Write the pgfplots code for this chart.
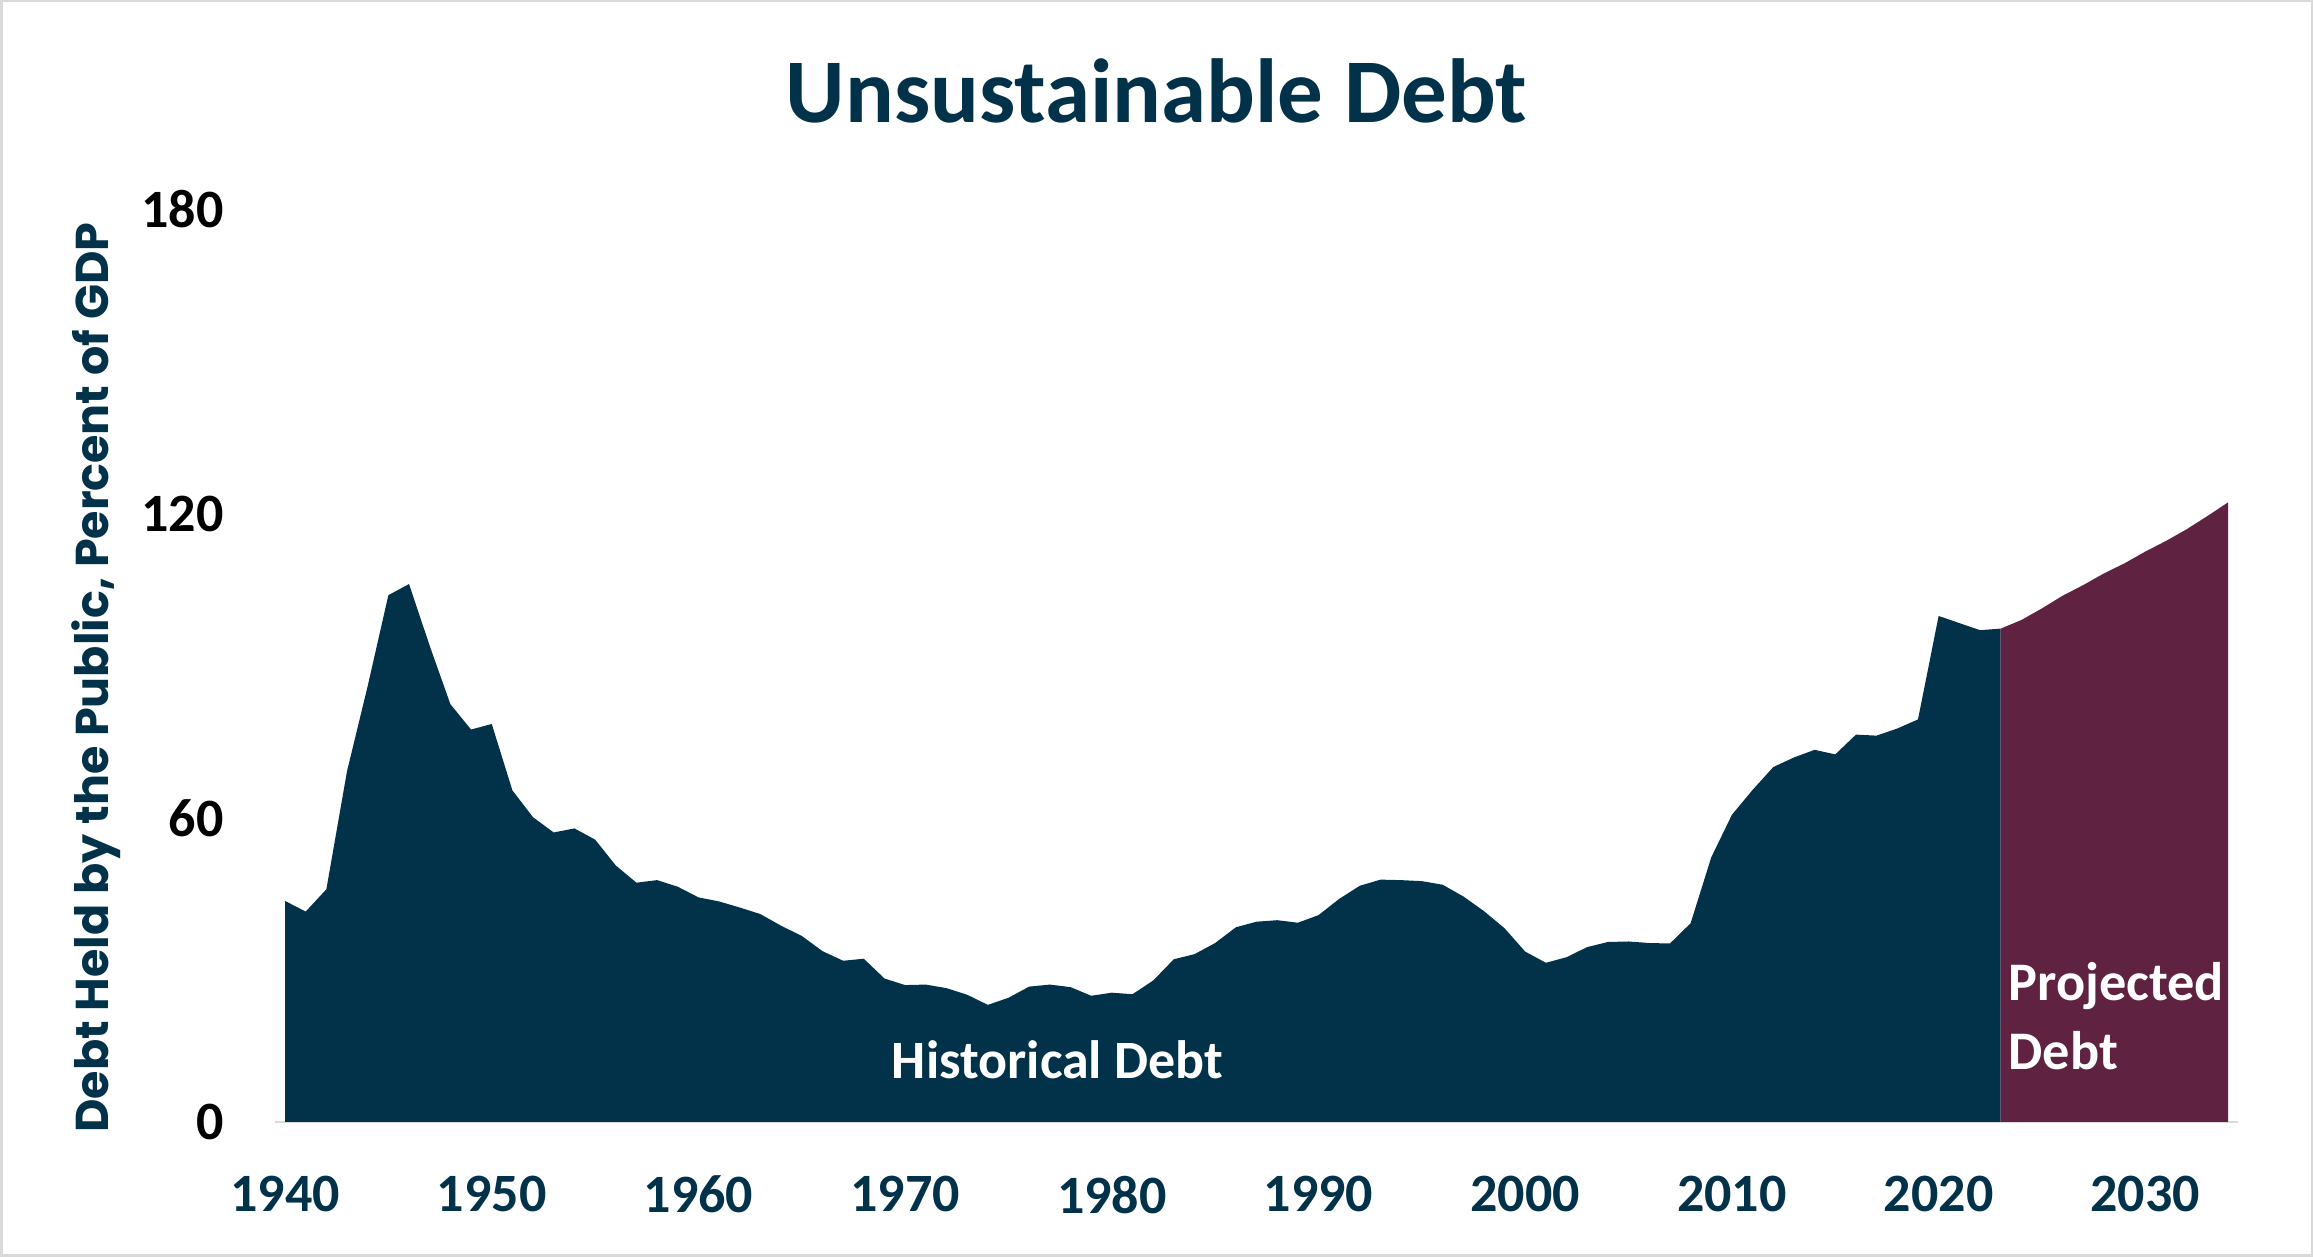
\documentclass[border=0pt]{standalone}
\usepackage{pgfplots}
\pgfplotsset{compat=1.18}
\usepackage{fontspec}
\setmainfont{Carlito}
\newfontfamily\poppins{Poppins}

\definecolor{navy}{RGB}{2,50,73}
\definecolor{maroon}{RGB}{95,34,65}
\definecolor{framegray}{RGB}{217,217,217}

\begin{document}
\begin{tikzpicture}
% picture is 2313 x 1257 px, 1 px = 0.3pt
\path[use as bounding box] (0,0) rectangle (693.9pt,377.1pt);
\draw[line width=0.75pt, framegray] (0.375pt,0.375pt) rectangle (693.525pt,376.725pt);

\begin{axis}[
  at={(82.41pt,40.5pt)}, anchor=south west,
  scale only axis,
  width=589.1pt, height=273.8pt,
  xmin=1939.5, xmax=2034.5,
  ymin=0, ymax=180,
  axis x line*=bottom, axis y line*=left,
  x axis line style={-, draw=framegray, line width=0.8pt},
  y axis line style={draw=none},
  major tick length=0pt,
  xtick={1940,1950,...,2030},
  ytick={0,60,120,180},
  /pgf/number format/assume math mode=true,
  /pgf/number format/1000 sep={},
  xticklabel style={font=\bfseries\fontsize{16.2}{16}\selectfont, text=navy, yshift=-12.6pt},
  yticklabel style={font=\bfseries\fontsize{16.2}{16}\selectfont, text=black, xshift=-11.8pt},
  clip=false,
]
  \addplot[fill=navy, draw=none] coordinates {
    (1940,43.6) (1941,41.5) (1942,45.9) (1943,69.2) (1944,86.0)
    (1945,103.9) (1946,106.1) (1947,93.9) (1948,82.4) (1949,77.4)
    (1950,78.5) (1951,65.4) (1952,60.1) (1953,57.1) (1954,57.9)
    (1955,55.7) (1956,50.6) (1957,47.2) (1958,47.7) (1959,46.4)
    (1960,44.3) (1961,43.5) (1962,42.3) (1963,41.0) (1964,38.7)
    (1965,36.7) (1966,33.7) (1967,31.8) (1968,32.2) (1969,28.3)
    (1970,27.0) (1971,27.1) (1972,26.4) (1973,25.1) (1974,23.1)
    (1975,24.5) (1976,26.7) (1977,27.1) (1978,26.6) (1979,24.9)
    (1980,25.5) (1981,25.2) (1982,27.9) (1983,32.1) (1984,33.1)
    (1985,35.3) (1986,38.4) (1987,39.5) (1988,39.8) (1989,39.3)
    (1990,40.8) (1991,44.0) (1992,46.6) (1993,47.8) (1994,47.7)
    (1995,47.5) (1996,46.8) (1997,44.5) (1998,41.6) (1999,38.2)
    (2000,33.6) (2001,31.4) (2002,32.5) (2003,34.5) (2004,35.5)
    (2005,35.6) (2006,35.3) (2007,35.2) (2008,39.2) (2009,52.2)
    (2010,60.6) (2011,65.5) (2012,70.0) (2013,71.9) (2014,73.4)
    (2015,72.5) (2016,76.4) (2017,76.2) (2018,77.6) (2019,79.4)
    (2020,99.8) (2021,98.4) (2022,97.0) (2023,97.3)
  } \closedcycle;

  \addplot[fill=maroon, draw=none] coordinates {
    (2023,97.3) (2024,99.0) (2025,101.3) (2026,103.8) (2027,105.9)
    (2028,108.2) (2029,110.2) (2030,112.5) (2031,114.6) (2032,116.9)
    (2033,119.5) (2034,122.2)
  } \closedcycle;

  \node[anchor=base, text=white, font=\bfseries\fontsize{16.2}{16}\selectfont, inner sep=0pt]
    at (axis cs:1977.37,8.62) {Historical Debt};
  \node[anchor=base west, text=white, font=\bfseries\fontsize{16.3}{16}\selectfont, inner sep=0pt]
    at (axis cs:2023.36,23.87) {Projected};
  \node[anchor=base west, text=white, font=\bfseries\fontsize{16.3}{16}\selectfont, inner sep=0pt]
    at (axis cs:2023.36,10.26) {Debt};
\end{axis}

\node[anchor=base, text=navy, font=\bfseries\fontsize{27.3}{28}\selectfont, inner sep=0pt]
  at (346.95pt,340.2pt) {Unsustainable Debt};
\node[rotate=90, text=navy, font=\poppins\bfseries\fontsize{13.8}{14}\selectfont, inner sep=0pt]
  at (28.8pt,173.8pt) {Debt Held by the Public, Percent of GDP};
\end{tikzpicture}
\end{document}
